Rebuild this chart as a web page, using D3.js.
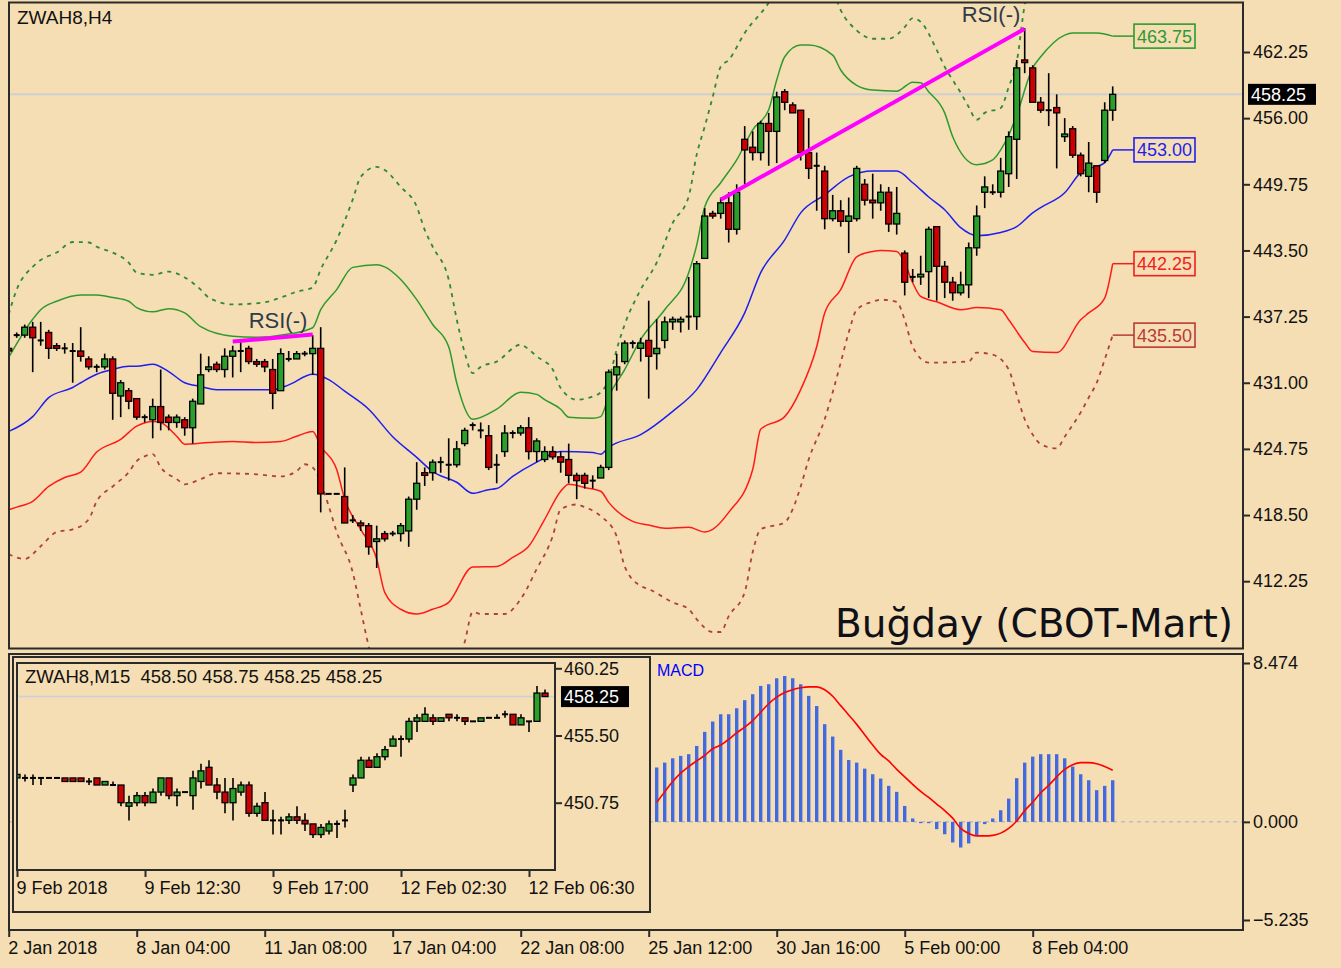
<!DOCTYPE html>
<html><head><meta charset="utf-8">
<script src="https://cdn.jsdelivr.net/npm/d3@7"></script>
<style>
html,body{margin:0;padding:0;background:#F5DEB3;}
svg{display:block;}
text{font-family:"Liberation Sans",Arial,sans-serif;}
</style>
</head><body>
<svg id="chart" width="1341" height="968"></svg>
<script>
// ---------------- DATA ----------------
// H4 candles [open, high, low, close], bar index 0..138
const h4Candles = [
[434.25,434.5,433.75,434.0],[435.5,435.75,435.25,435.5],[435.5,436.5,435.25,436.25],[436.25,436.75,432.0,435.25],
[435.0,436.75,434.5,435.0],[435.75,436.0,433.25,434.25],[434.5,434.75,434.0,434.25],[434.25,434.75,433.75,434.25],
[434.0,434.75,431.0,434.0],[434.0,436.25,433.0,433.5],[433.25,433.5,432.25,432.5],[432.5,432.75,432.0,432.5],
[432.5,433.75,432.25,433.25],[433.25,433.5,427.5,430.0],[429.75,431.25,427.75,431.0],[430.25,430.5,428.5,429.25],
[429.5,429.5,427.5,427.75],[427.75,428.0,427.25,427.75],[427.5,429.5,425.75,428.75],[428.75,432.25,426.5,427.25],
[427.75,428.0,426.5,427.25],[427.25,428.0,426.75,427.75],[427.5,427.75,426.0,426.75],[426.75,429.5,425.25,429.25],
[429.0,433.75,429.0,431.75],[432.25,433.5,432.0,432.5],[432.75,433.0,432.0,432.25],[432.25,434.25,431.5,433.5],
[433.5,434.5,431.5,434.0],[434.0,435.0,432.0,434.0],[434.25,434.5,432.75,433.0],[433.0,433.25,432.5,432.75],
[433.0,433.25,432.0,432.5],[432.25,433.25,428.5,430.0],[430.25,434.25,430.25,433.75],[433.25,434.0,433.0,433.25],
[433.25,434.0,433.25,433.75],[433.75,434.0,433.5,433.75],[433.75,435.5,431.75,434.25],[434.25,436.25,418.75,420.5],
[420.5,420.5,420.5,420.5],[420.5,420.5,420.5,420.5],[420.25,423.0,417.75,417.75],[418.0,418.5,417.75,418.0],
[417.75,418.0,417.0,417.5],[417.5,417.75,414.75,415.5],[416.0,417.5,413.5,416.25],[416.75,417.0,416.0,416.25],
[416.75,417.0,416.5,416.75],[416.75,417.75,416.0,417.5],[417.0,420.25,415.5,420.0],[420.0,423.5,419.0,421.5],
[422.5,423.0,421.25,422.25],[422.5,423.75,421.75,423.5],[423.5,424.0,422.5,423.5],[423.25,425.75,421.75,423.25],
[423.25,425.5,423.0,424.75],[425.25,426.75,425.0,426.5],[427.0,427.25,426.5,427.0],[426.5,427.25,425.75,426.5],
[426.0,427.0,422.75,423.0],[423.25,424.25,421.5,423.25],[424.5,427.0,424.0,426.25],[426.25,426.5,425.75,426.25],
[426.25,427.0,426.0,426.75],[426.75,427.75,423.75,424.5],[424.5,425.75,423.5,425.5],[423.75,425.0,423.5,424.5],
[424.5,425.0,423.75,424.0],[424.0,424.5,422.5,423.5],[423.75,425.25,421.5,422.25],[422.25,422.5,420.0,421.75],
[422.25,422.5,421.0,421.5],[421.75,422.25,421.0,421.75],[422.0,423.25,422.0,423.0],[423.0,432.25,422.75,432.0],
[431.75,433.75,430.25,432.5],[433.0,435.0,432.75,434.75],[434.75,435.0,434.25,434.75],[434.25,435.25,433.0,434.75],
[435.0,438.75,429.5,433.5],[433.75,437.0,432.25,434.25],[435.0,437.25,434.25,436.75],[436.75,437.25,436.0,437.0],
[436.75,437.25,435.75,437.0],[437.25,441.0,436.0,437.25],[437.25,442.5,436.0,442.25],[442.75,447.5,442.75,446.75],
[447.0,447.25,446.5,446.75],[447.0,448.5,446.5,448.0],[448.0,449.0,444.25,445.5],[445.5,449.75,445.0,449.0],
[454.0,455.25,449.75,453.0],[453.25,454.75,452.0,452.75],[452.75,455.75,452.0,455.5],[455.5,456.5,451.5,454.75],
[454.75,458.5,451.75,458.0],[458.5,458.75,456.75,457.5],[457.25,457.5,456.5,456.5],[456.75,456.75,452.0,452.75],
[452.75,456.0,450.25,451.25],[451.5,452.75,447.25,451.5],[451.0,451.5,445.5,446.5],[446.5,448.75,446.25,447.25],
[447.25,448.25,445.75,446.25],[446.25,448.5,443.25,446.75],[446.5,451.5,446.25,451.25],[449.75,450.25,447.75,448.25],
[448.25,450.75,446.5,448.0],[448.0,449.75,447.25,449.0],[449.0,449.5,445.25,446.0],[446.0,449.5,445.0,447.0],
[443.25,443.5,439.25,440.5],[441.0,441.75,440.5,441.0],[441.0,443.0,440.25,441.25],[441.5,445.75,439.0,445.5],
[445.75,445.75,438.75,442.0],[442.0,442.5,439.0,440.5],[440.5,441.0,438.75,439.5],[439.5,441.5,439.25,440.25],
[440.25,444.25,439.0,443.75],[443.75,447.75,443.0,446.75],[449.0,450.5,447.5,449.5],[449.0,449.75,448.75,449.0],
[449.0,452.25,448.5,451.0],[450.75,454.75,449.5,454.25],[454.0,461.5,450.25,460.75],[461.5,464.5,460.25,461.25],
[460.75,461.0,457.5,457.5],[457.5,458.0,456.5,456.75],[456.75,460.25,455.25,456.75],[457.0,458.25,451.25,456.5],
[454.25,456.0,453.75,454.5],[455.0,455.25,452.25,452.5],[452.5,452.75,450.5,450.75],[450.5,453.75,449.0,451.75],
[451.5,451.5,448.0,449.0],[452.0,457.5,451.75,456.75],[456.75,459.0,455.75,458.25]
];

// Bollinger bands: [bar index, price]
const bbUpper = [[0,433.4],[3,437.0],[4,437.9],[6,438.7],[9,439.3],[11,439.3],[13,439.05],[15,438.7],[16,438.1],[18,437.7],[20,438.0],[22,437.6],[24,436.3],[28,435.4],[31,435.3],[35,435.6],[38,436.2],[39,437.9],[41,439.8],[43,441.9],[46,442.15],[47,441.95],[49,440.75],[51,438.85],[53,436.5],[55,434.4],[56,431.0],[58,427.55],[61,428.5],[64,430.1],[66,429.9],[67,429.4],[69,428.5],[70,427.75],[73,427.65],[74,427.8],[75,429.7],[77,432.25],[79,435.1],[82,437.9],[85,441.4],[86,444.0],[87,447.6],[89,449.9],[91,452.05],[93,454.9],[95,456.8],[96,459.6],[97,461.8],[99,462.9],[100,462.9],[103,461.95],[104,460.55],[106,459.1],[108,458.65],[111,458.55],[113,459.4],[114,459.35],[115,458.5],[117,456.5],[118,454.25],[121,451.6],[123,452.05],[124,453.0],[125,454.4],[126,456.3],[128,460.75],[129,461.8],[132,463.85],[133,464.05],[136,464.05],[138,463.75]];
const bbMiddle = [[0,426.4],[3,427.8],[5,429.6],[8,430.55],[9,431.0],[11,431.8],[13,432.25],[15,432.55],[16,432.55],[18,432.75],[20,432.05],[22,431.0],[24,430.65],[26,430.35],[33,430.35],[35,430.8],[38,431.8],[40,431.3],[42,430.2],[45,428.5],[48,425.9],[51,423.95],[53,422.6],[56,421.6],[58,420.55],[60,420.9],[61,421.0],[63,422.15],[66,423.5],[69,424.5],[73,424.4],[74,424.25],[75,424.9],[79,426.1],[83,428.3],[86,430.35],[89,433.85],[92,437.6],[94,441.4],[97,444.5],[99,447.05],[102,448.75],[105,450.45],[108,451.0],[111,451.0],[113,449.9],[115,448.55],[117,447.35],[119,445.65],[121,444.9],[124,445.2],[126,445.75],[128,447.05],[129,447.55],[132,448.95],[134,450.85],[137,451.8],[138,453.0]];
const bbLower = [[0,419.0],[1,419.25],[3,419.8],[5,421.2],[7,422.05],[9,422.55],[11,424.45],[14,425.65],[16,426.9],[18,427.35],[19,427.25],[21,425.95],[22,425.2],[25,425.35],[28,425.45],[31,425.35],[34,425.45],[36,425.95],[38,426.4],[39,425.0],[41,422.8],[42,420.0],[44,417.15],[46,414.35],[47,411.2],[49,409.6],[51,409.15],[53,409.6],[55,410.25],[58,413.6],[61,413.65],[63,414.5],[65,415.55],[67,418.1],[69,420.75],[70,421.4],[72,421.1],[74,420.75],[75,419.7],[78,417.9],[80,417.55],[82,417.25],[85,417.35],[87,416.9],[88,417.15],[90,418.75],[93,422.8],[94,426.6],[97,427.8],[99,430.35],[101,434.4],[102,437.6],[104,439.8],[106,442.9],[108,443.4],[109,443.5],[111,443.4],[112,442.35],[113,440.45],[114,439.15],[116,438.65],[119,437.9],[121,438.1],[124,437.9],[125,436.95],[127,434.8],[128,433.95],[131,433.85],[134,436.95],[135,437.6],[137,439.0],[138,442.25]];
const bbUpperOuter = [[0,437.45],[1,439.8],[3,441.95],[4,442.6],[6,443.3],[8,444.3],[10,444.25],[11,443.85],[13,443.3],[15,442.35],[16,441.4],[18,441.2],[20,441.5],[22,440.95],[24,439.8],[25,439.05],[28,438.4],[32,438.6],[34,439.05],[36,439.6],[38,440.0],[39,441.7],[41,444.5],[43,448.3],[44,450.45],[46,451.4],[47,451.1],[49,449.5],[51,447.65],[52,445.45],[53,443.85],[55,440.75],[56,437.0],[57,433.85],[58,431.9],[59,432.5],[61,433.0],[64,434.6],[65,434.15],[66,433.5],[68,432.25],[69,430.5],[71,429.4],[73,429.7],[74,430.1],[75,431.3],[76,434.15],[77,436.5],[79,439.8],[81,442.35],[83,446.1],[85,448.6],[86,452.55],[87,455.2],[88,458.0],[89,460.85],[90,461.5],[92,464.05],[95,466.9],[97,469.5],[100,471.5],[102,470.5],[104,466.2],[106,464.3],[108,463.5],[110,463.5],[112,464.6],[113,465.45],[114,465.1],[116,462.45],[117,460.85],[118,459.6],[119,458.4],[120,457.05],[121,455.85],[122,456.5],[124,456.95],[125,458.95],[126,461.3],[127,466.7],[128,469.5],[130,472.5],[133,474.5],[138,475.5]];
const bbLowerOuter = [[0,414.8],[2,414.35],[4,415.55],[6,416.9],[8,417.15],[10,418.1],[11,419.8],[13,421.2],[15,422.55],[16,423.6],[17,424.05],[18,424.25],[19,423.0],[21,421.9],[22,421.4],[24,421.9],[26,422.45],[31,422.35],[34,422.15],[36,422.65],[37,423.3],[38,423.0],[39,421.6],[40,419.35],[41,416.9],[43,413.1],[44,409.6],[45,406.1],[47,402.0],[50,398.5],[53,399.5],[55,402.5],[57,406.5],[58,409.35],[59,409.15],[62,409.15],[64,410.55],[66,413.4],[68,416.5],[69,419.05],[71,419.5],[72,419.25],[74,418.4],[76,416.5],[77,413.65],[79,411.8],[80,411.5],[83,410.25],[85,409.6],[86,408.65],[88,407.45],[89,407.45],[90,408.95],[92,411.2],[93,415.0],[94,417.15],[97,417.8],[98,419.05],[99,421.2],[100,423.75],[102,427.55],[103,430.1],[104,432.9],[105,435.75],[106,437.9],[108,438.65],[109,438.85],[111,438.65],[112,436.95],[113,434.4],[115,432.9],[120,433.0],[121,433.85],[123,433.65],[125,432.25],[126,429.9],[127,427.55],[128,426.1],[129,425.2],[131,424.8],[132,425.9],[134,428.2],[135,429.6],[136,431.0],[137,433.2],[138,435.5]];

// band end labels
const bandLabels = [
  {value:463.75, color:"#2E9A2E"},
  {value:453.00, color:"#1E1EF0"},
  {value:442.25, color:"#F02020"},
  {value:435.50, color:"#B83A3A"}
];

// RSI divergence annotations: [barIndex, price] pairs
const rsiLines = [
  {from:[28,434.9], to:[38,435.55]},
  {from:[89,448.3], to:[127,464.45]}
];

const priceTicks = [462.25,456.00,449.75,443.50,437.25,431.00,424.75,418.50,412.25];
const lastPrice = 458.25;
const dateTickBars = [0,16,32,48,64,80,96,112,128];
const dateTickLabels = ["2 Jan 2018","8 Jan 04:00","11 Jan 08:00","17 Jan 04:00","22 Jan 08:00","25 Jan 12:00","30 Jan 16:00","5 Feb 00:00","8 Feb 04:00"];

// MACD (last 58 bars, starting at bar 81)
const macdStartBar = 81;
const macdHist = [2.90,3.16,3.39,3.52,3.61,4.05,4.80,5.35,5.74,5.74,6.06,6.49,6.81,7.25,7.34,7.66,7.78,7.66,7.34,6.72,6.18,5.21,4.55,3.84,3.30,3.16,2.84,2.54,2.31,1.92,1.60,0.85,0.18,-0.07,-0.07,-0.39,-0.66,-1.10,-1.37,-1.15,-0.75,-0.12,0.18,0.62,1.24,2.33,3.16,3.48,3.61,3.61,3.61,3.39,2.95,2.54,2.22,1.69,1.92,2.22];
const macdSignal = [1.05,1.6,2.15,2.6,2.95,3.25,3.55,3.9,4.1,4.4,4.75,5.05,5.4,5.85,6.3,6.65,6.9,7.05,7.15,7.2,7.2,7.05,6.7,6.2,5.7,5.2,4.65,4.1,3.6,3.25,2.8,2.4,2.0,1.62,1.3,0.95,0.6,0.2,-0.35,-0.62,-0.75,-0.75,-0.72,-0.6,-0.35,0.05,0.6,1.05,1.55,1.95,2.4,2.8,3.05,3.16,3.16,3.1,2.95,2.75];
const macdTicks = [8.474, 0.000, -5.235];

// M15 inset candles [open, high, low, close]
const m15Candles = [
[452.5,452.75,452.25,452.75],[452.5,452.75,452.25,452.5],[452.5,452.75,452.0,452.5],[452.5,452.5,452.0,452.5],
[452.5,452.5,452.5,452.5],[452.5,452.5,452.5,452.5],[452.5,452.5,452.25,452.25],[452.5,452.5,452.25,452.25],
[452.5,452.5,452.25,452.25],[452.25,452.5,452.0,452.25],[452.5,452.5,452.0,452.0],[452.0,452.25,452.0,452.25],
[452.0,452.25,452.0,452.0],[452.0,452.0,450.5,450.75],[450.5,451.25,449.5,450.75],[450.75,451.5,450.5,451.25],
[451.25,451.5,450.5,450.75],[450.75,451.75,450.75,451.5],[451.5,452.5,451.25,452.5],[452.5,452.5,451.0,451.25],
[451.25,451.75,450.5,451.5],[451.5,451.5,451.5,451.5],[451.25,453.0,450.25,452.5],[452.25,453.5,451.75,453.0],
[453.25,453.75,452.0,452.0],[452.0,452.5,451.0,451.5],[451.5,452.5,450.0,450.75],[450.75,452.5,449.5,451.75],
[451.5,452.25,451.25,452.0],[452.0,452.25,449.75,450.0],[450.0,450.75,449.75,450.5],[450.75,451.5,449.5,449.5],
[449.5,450.25,448.5,449.5],[449.5,449.75,448.5,449.5],[449.5,450.0,449.25,449.75],[449.75,450.5,449.25,449.5],
[449.5,450.0,448.75,449.25],[449.25,449.25,448.25,448.5],[448.5,449.25,448.25,449.0],[448.75,449.5,448.5,449.25],
[449.25,449.5,448.25,449.25],[449.5,450.25,449.0,449.5],[452.0,452.75,451.5,452.5],[452.5,454.0,452.5,453.75],
[453.75,454.0,453.25,453.25],[453.25,454.25,453.25,454.0],[454.0,454.75,453.75,454.5],[454.75,455.5,454.75,455.25],
[455.25,455.5,454.0,455.25],[455.25,456.75,455.0,456.5],[456.5,457.0,455.75,456.75],[456.5,457.5,456.5,457.0],
[456.75,457.0,456.25,456.5],[456.5,456.75,456.5,456.75],[457.0,457.0,456.5,456.75],[456.75,457.0,456.5,456.75],
[456.75,456.75,456.25,456.5],[456.5,456.5,456.5,456.5],[456.5,456.75,456.5,456.75],[456.75,456.75,456.75,456.75],
[456.75,457.0,456.75,456.75],[457.0,457.25,456.75,457.0],[457.0,457.0,456.25,456.25],[456.25,457.0,456.25,456.75],
[456.5,456.5,455.75,456.5],[456.5,459.0,456.5,458.5],[458.5,458.75,458.25,458.25]
];
const m15Ticks = [460.25,455.50,450.75];
const m15DateBars = [0,16,32,48,64];
const m15DateLabels = ["9 Feb 2018","9 Feb 12:30","9 Feb 17:00","12 Feb 02:30","12 Feb 06:30"];
const m15Title = "ZWAH8,M15  458.50 458.75 458.25 458.25";
const mainTitle = "ZWAH8,H4";
const chartCaption = "Buğday (CBOT-Mart)";

// ---------------- DRAWING ----------------
const svg = d3.select("#chart");
const BG = "#F5DEB3", FRAME = "#2B2B2B";
const BULL = "#2A9F2A", BEAR = "#D00000";
const FONT = "Liberation Sans, Arial, sans-serif";
const FS = 18;

svg.append("rect").attr("width",1341).attr("height",968).attr("fill",BG);

const defs = svg.append("defs");
defs.append("clipPath").attr("id","clipMain").append("rect").attr("x",9).attr("y",3).attr("width",1234).attr("height",645);
defs.append("clipPath").attr("id","clipMacd").append("rect").attr("x",9).attr("y",655).attr("width",1234).attr("height",274);
defs.append("clipPath").attr("id","clipIns").append("rect").attr("x",17).attr("y",663).attr("width",538).attr("height",207);

const x = d3.scaleLinear().domain([0,138]).range([8.7,1112.7]);
const y = d3.scaleLinear().domain([412.25,462.25]).range([581.2,52]);

function drawCandles(g, data, xs, ys, half){
  const rows = data.map((d,i)=>({i:i,o:d[0],h:d[1],l:d[2],c:d[3]}));
  const sel = g.selectAll("g.c").data(rows).join("g").attr("class","c");
  sel.append("line")
    .attr("x1",d=>xs(d.i)).attr("x2",d=>xs(d.i))
    .attr("y1",d=>ys(d.h)).attr("y2",d=>ys(d.l))
    .attr("stroke","#000").attr("stroke-width",1.6);
  sel.filter(d=>d.o!==d.c).append("rect")
    .attr("x",d=>xs(d.i)-half).attr("width",half*2)
    .attr("y",d=>ys(Math.max(d.o,d.c)))
    .attr("height",d=>Math.max(1,Math.abs(ys(d.o)-ys(d.c))))
    .attr("fill",d=>d.c>d.o?BULL:BEAR)
    .attr("stroke","#000").attr("stroke-width",1.3);
  sel.filter(d=>d.o===d.c).append("line")
    .attr("x1",d=>xs(d.i)-half).attr("x2",d=>xs(d.i)+half)
    .attr("y1",d=>ys(d.o)).attr("y2",d=>ys(d.o))
    .attr("stroke","#000").attr("stroke-width",2);
}
function styleAxis(g){
  g.select(".domain").remove();
  g.selectAll("line").attr("stroke",FRAME).attr("stroke-width",2);
  g.selectAll("text").attr("font-size",FS).attr("fill","#111").attr("font-family",FONT);
}

// ---- main pane ----
const main = svg.append("g");
const mainPlot = main.append("g").attr("clip-path","url(#clipMain)");
mainPlot.append("line").attr("x1",9).attr("x2",1243).attr("y1",y(lastPrice)).attr("y2",y(lastPrice))
  .attr("stroke","#CFCFCF").attr("stroke-width",2);

const bandLine = d3.line().x(d=>x(d[0])).y(d=>y(d[1])).curve(d3.curveMonotoneX);
const bands = [
  {data:bbUpperOuter, color:"#2E8B2E", dash:"4,5", w:1.8},
  {data:bbLowerOuter, color:"#B04040", dash:"4,5", w:1.8},
  {data:bbUpper, color:"#2E9A2E", dash:null, w:1.5},
  {data:bbLower, color:"#FF1A1A", dash:null, w:1.5},
  {data:bbMiddle, color:"#1E1EF0", dash:null, w:1.5}
];
bands.forEach(b=>{
  mainPlot.append("path").attr("d",bandLine(b.data)).attr("fill","none")
    .attr("stroke",b.color).attr("stroke-width",b.w).attr("stroke-dasharray",b.dash);
});

drawCandles(mainPlot.append("g"), h4Candles, x, y, 3);

// RSI divergence lines
rsiLines.forEach(r=>{
  mainPlot.append("line").attr("x1",x(r.from[0])).attr("y1",y(r.from[1]))
    .attr("x2",x(r.to[0])).attr("y2",y(r.to[1]))
    .attr("stroke","#FF00FF").attr("stroke-width",4);
});
main.append("text").attr("x",x(rsiLines[0].from[0])+16).attr("y",y(rsiLines[0].to[1])-7)
  .attr("font-size",22).attr("fill","#2F3A48").text("RSI(-)");
main.append("text").attr("x",x(rsiLines[1].to[0])-63).attr("y",22)
  .attr("font-size",22).attr("fill","#2F3A48").text("RSI(-)");

// band end labels
bandLabels.forEach(b=>{
  const yy = y(b.value);
  main.append("line").attr("x1",x(138)).attr("x2",1134).attr("y1",yy).attr("y2",yy)
    .attr("stroke",b.color).attr("stroke-width",1.5);
  main.append("rect").attr("x",1134).attr("y",yy-12).attr("width",61).attr("height",24)
    .attr("fill",BG).attr("stroke",b.color).attr("stroke-width",1.6);
  main.append("text").attr("x",1164.5).attr("y",yy+6.5).attr("text-anchor","middle")
    .attr("font-size",FS).attr("fill",b.color).text(b.value.toFixed(2));
});

// frame
main.append("rect").attr("x",9).attr("y",2.5).attr("width",1234).attr("height",646)
  .attr("fill","none").attr("stroke",FRAME).attr("stroke-width",2);

// right axis
const gy = main.append("g").attr("transform","translate(1243,0)")
  .call(d3.axisRight(y).tickValues(priceTicks).tickFormat(d3.format(".2f")).tickSize(7).tickPadding(3));
styleAxis(gy);

// last price box
main.append("rect").attr("x",1248).attr("y",y(lastPrice)-10.5).attr("width",68).attr("height",21).attr("fill","#000");
main.append("text").attr("x",1251).attr("y",y(lastPrice)+6.5).attr("font-size",FS).attr("fill","#fff").text(lastPrice.toFixed(2));

main.append("text").attr("x",17).attr("y",24).attr("font-size",19).attr("fill","#111").text(mainTitle);
main.append("text").attr("x",835).attr("y",637).attr("font-size",39).attr("fill","#101018")
  .style("font-family","'DejaVu Sans', Verdana, sans-serif").text(chartCaption);

// ---- MACD pane ----
const ym = d3.scaleLinear().domain([-5.235,8.474]).range([920,663]);
const macd = svg.append("g");
const macdPlot = macd.append("g").attr("clip-path","url(#clipMacd)");
macdPlot.append("line").attr("x1",9).attr("x2",1243).attr("y1",ym(0)).attr("y2",ym(0))
  .attr("stroke","#BDBDBD").attr("stroke-width",1.5).attr("stroke-dasharray","4,4");
macdPlot.selectAll("rect.h").data(macdHist).join("rect").attr("class","h")
  .attr("x",(d,i)=>x(macdStartBar+i)-1.7).attr("width",3.4)
  .attr("y",d=>ym(Math.max(0,d))).attr("height",d=>Math.max(1,Math.abs(ym(d)-ym(0))))
  .attr("fill","#4169E1");
const sigLine = d3.line().x((d,i)=>x(macdStartBar+i)).y(d=>ym(d)).curve(d3.curveMonotoneX);
macdPlot.append("path").attr("d",sigLine(macdSignal)).attr("fill","none").attr("stroke","#FF0000").attr("stroke-width",1.6);
macd.append("text").attr("x",657).attr("y",676).attr("font-size",16).attr("fill","#0000FF").text("MACD");
macd.append("rect").attr("x",9).attr("y",654).attr("width",1234).attr("height",276)
  .attr("fill","none").attr("stroke",FRAME).attr("stroke-width",2);
const gm = macd.append("g").attr("transform","translate(1243,0)")
  .call(d3.axisRight(ym).tickValues(macdTicks).tickFormat(d3.format(".3f")).tickSize(7).tickPadding(3));
styleAxis(gm);

// bottom date axis
const gx = svg.append("g").attr("transform","translate(0,930)")
  .call(d3.axisBottom(x).tickValues(dateTickBars).tickFormat((d,i)=>dateTickLabels[i]).tickSize(7).tickPadding(4));
styleAxis(gx);
gx.selectAll("text").attr("text-anchor","start").attr("dx",-1);

// ---- M15 inset ----
const ins = svg.append("g");
ins.append("rect").attr("x",13).attr("y",657).attr("width",637).attr("height",255)
  .attr("fill",BG).attr("stroke",FRAME).attr("stroke-width",2);
const xi = d3.scaleLinear().domain([0,66]).range([17,545]);
const yi = d3.scaleLinear().domain([450.75,460.25]).range([802.7,668.3]);
const insPlot = ins.append("g").attr("clip-path","url(#clipIns)");
insPlot.append("line").attr("x1",17).attr("x2",555).attr("y1",yi(lastPrice)).attr("y2",yi(lastPrice))
  .attr("stroke","#C9D0D8").attr("stroke-width",1.5);
drawCandles(insPlot.append("g"), m15Candles, xi, yi, 3);
ins.append("rect").attr("x",17).attr("y",663).attr("width",538).attr("height",207)
  .attr("fill","none").attr("stroke",FRAME).attr("stroke-width",2);
const gi = ins.append("g").attr("transform","translate(555,0)")
  .call(d3.axisRight(yi).tickValues(m15Ticks).tickFormat(d3.format(".2f")).tickSize(7).tickPadding(2));
styleAxis(gi);
ins.append("rect").attr("x",561).attr("y",yi(lastPrice)-10.5).attr("width",68).attr("height",21).attr("fill","#000");
ins.append("text").attr("x",564).attr("y",yi(lastPrice)+6.5).attr("font-size",FS).attr("fill","#fff").text(lastPrice.toFixed(2));
const gxi = ins.append("g").attr("transform","translate(0,870)")
  .call(d3.axisBottom(xi).tickValues(m15DateBars).tickFormat((d,i)=>m15DateLabels[i]).tickSize(7).tickPadding(4));
styleAxis(gxi);
gxi.selectAll("text").attr("text-anchor","start").attr("dx",-1);
ins.append("text").attr("x",25).attr("y",683).attr("font-size",18.5).attr("fill","#111")
  .style("white-space","pre").text(m15Title);
</script>
</body></html>
